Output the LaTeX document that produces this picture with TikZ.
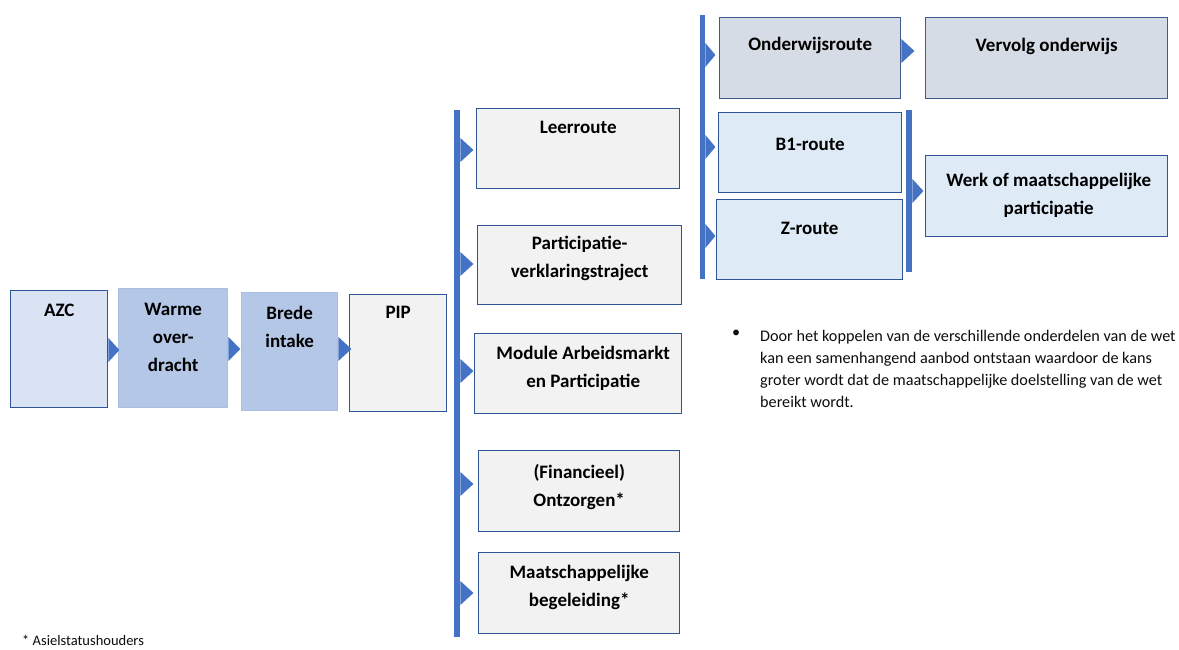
\documentclass[tikz,border=0pt]{standalone}
\usepackage{fontspec}
\setmainfont{Carlito}
\usetikzlibrary{calc}
\definecolor{chevc}{HTML}{4472C4}
\definecolor{edgec}{HTML}{2F5597}
\definecolor{azcfill}{HTML}{DAE3F3}
\definecolor{midfill}{HTML}{B4C7E7}
\definecolor{midedge}{HTML}{A9BEE2}
\definecolor{greyfill}{HTML}{F2F2F2}
\definecolor{ondfill}{HTML}{D6DCE5}
\definecolor{ondedge}{HTML}{3E5A8F}
\definecolor{litefill}{HTML}{DEEBF7}
\definecolor{txtc}{HTML}{0D0D0D}
\newcommand\chev[2]{\fill[chevc] (#1) ++(0,-12) -- ++(#2,12) -- ++(-#2,12) -- cycle;}
\begin{document}
\begin{tikzpicture}[x=1pt,y=-1pt,
  boxbase/.style={rectangle, inner sep=0pt, line width=1.4pt, anchor=north west},
  azcbox/.style={boxbase, fill=azcfill, draw=edgec},
  midbox/.style={boxbase, fill=midfill, draw=midedge},
  greybox/.style={boxbase, fill=greyfill, draw=edgec},
  ondbox/.style={boxbase, fill=ondfill, draw=ondedge},
  litebox/.style={boxbase, fill=litefill, draw=edgec},
  lbl/.style={anchor=north, inner sep=0pt, align=center, text=black,
    font=\bfseries\fontsize{19}{28}\selectfont},
  barstyle/.style={rectangle, inner sep=0pt, fill=chevc, anchor=north west},
  para/.style={inner sep=0pt, align=left, text=txtc,
    font=\fontsize{16.2}{22}\selectfont}]
\useasboundingbox (0,0) rectangle (1179,650);
\fill[white] (0,0) rectangle (1179,650);

% left chain
\node[azcbox, minimum width=97, minimum height=117] (azc) at (10,290) {};
\node[midbox, minimum width=109, minimum height=119] (warm) at (118,288) {};
\node[midbox, minimum width=96, minimum height=118] (brede) at (241,292) {};
\node[greybox, minimum width=97, minimum height=117] (pip) at (349,294) {};
\node[lbl] (azct) at ($(azc.north)+(0,14)$) {AZC};
\node[lbl] (warmt) at ($(warm.north)+(0,15)$) {Warme\\over-\\dracht};
\node[lbl] (bredet) at ($(brede.north)+(0,14)$) {Brede\\intake};
\node[lbl] (pipt) at ($(pip.north)+(0,12)$) {PIP};
\chev{azc.east |- 0,350}{11}
\chev{warm.east |- 0,349}{12}
\chev{brede.east |- 0,349}{13}

% middle column
\node[barstyle, minimum width=6, minimum height=527] (bar1) at (454,110) {};
\node[greybox, minimum width=203, minimum height=80] (leer) at (476,108) {};
\node[greybox, minimum width=204, minimum height=79] (part) at (477,225) {};
\node[greybox, minimum width=207, minimum height=80] (mod) at (474,333) {};
\node[greybox, minimum width=201, minimum height=81] (fin) at (478,450) {};
\node[greybox, minimum width=201, minimum height=81] (maat) at (478,552) {};
\node[lbl] (leert) at ($(leer.north)+(0,13)$) {Leerroute};
\node[lbl] (partt) at ($(part.north)+(0,11)$) {Participatie-\\verklaringstraject};
\node[lbl] (modt) at ($(mod.north)+(5,13)$) {Module Arbeidsmarkt\\en Participatie};
\node[lbl] (fint) at ($(fin.north)+(0,14)$) {(Financieel)\\Ontzorgen*};
\node[lbl] (maatt) at ($(maat.north)+(0,13)$) {Maatschappelijke\\begeleiding*};
\chev{bar1.east |- 0,150}{13}
\chev{bar1.east |- 0,264}{13}
\chev{bar1.east |- 0,371}{13}
\chev{bar1.east |- 0,484}{13}
\chev{bar1.east |- 0,593}{13}

% right column
\node[barstyle, minimum width=5, minimum height=264] (bar2) at (700,15) {};
\node[ondbox, minimum width=181, minimum height=81] (ond) at (719,17) {};
\node[ondbox, minimum width=242, minimum height=81] (verv) at (925,17) {};
\node[litebox, minimum width=183, minimum height=80] (b1) at (718,112) {};
\node[litebox, minimum width=186, minimum height=80] (zr) at (716,199) {};
\node[barstyle, minimum width=6, minimum height=162] (bar3) at (906,110) {};
\node[litebox, minimum width=242, minimum height=81] (werk) at (925,155) {};
\node[lbl] (ondt) at ($(ond.north)+(0,20)$) {Onderwijsroute};
\node[lbl] (vervt) at ($(verv.north)+(0,21)$) {Vervolg onderwijs};
\node[lbl] (b1t) at ($(b1.north)+(0,26)$) {B1-route};
\node[lbl] (zrt) at ($(zr.north)+(0,23)$) {Z-route};
\node[lbl] (werkt) at ($(werk.north)+(2,18)$) {Werk of maatschappelijke\\participatie};
\chev{bar2.east |- 0,55}{10}
\chev{bar2.east |- 0,147}{10}
\chev{bar2.east |- 0,236}{10}
\chev{ond.east |- 0,51}{13}
\chev{bar3.east |- 0,191}{11}

% paragraph
\node[para, anchor=north west] (bul) at (732,330) {•};
\node[para, anchor=north west] (txt) at (760,330) {Door het koppelen van de verschillende onderdelen van de wet\\kan een samenhangend aanbod ontstaan waardoor de kans\\groter wordt dat de maatschappelijke doelstelling van de wet\\bereikt wordt.};

% footnote
\node[anchor=base west, inner sep=0pt, text=txtc, font=\fontsize{14.5}{16}\selectfont] (foot) at (22,645) {* Asielstatushouders};
\end{tikzpicture}
\end{document}
